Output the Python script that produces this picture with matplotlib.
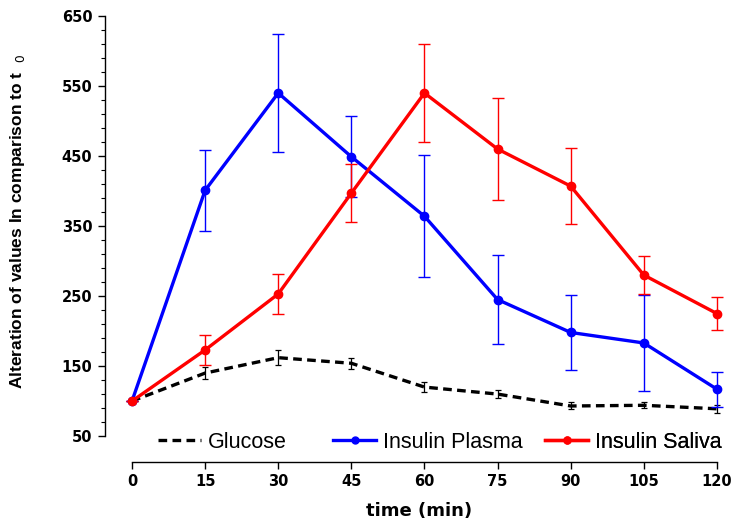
import matplotlib

matplotlib.use("Agg")
import matplotlib.pyplot as plt
from matplotlib.lines import Line2D
from matplotlib.ticker import FixedLocator

plt.rcParams["font.family"] = ["Liberation Sans", "DejaVu Sans"]

# sampling times (min)
time = [0, 15, 30, 45, 60, 75, 90, 105, 120]

# values relative to t0 (=100)
glucose = [100, 140, 162, 154, 120, 110, 93, 94, 89]
glucose_err = [0, 9, 11, 8, 7, 6, 5, 4, 6]

insulin_plasma = [100, 401, 540, 449, 364, 245, 198, 183, 117]
insulin_plasma_err = [0, 58, 84, 58, 87, 63, 54, 68, 25]

insulin_saliva = [100, 173, 253, 397, 540, 460, 407, 280, 225]
insulin_saliva_err = [0, 21, 28, 41, 70, 73, 54, 27, 24]

x_ticks = [0, 15, 30, 45, 60, 75, 90, 105, 120]
y_ticks = [50, 150, 250, 350, 450, 550, 650]
y_minor = [v for v in range(50, 651, 20) if v not in y_ticks]

BLUE = "#0000ff"
RED = "#ff0000"

fig = plt.figure(figsize=(7.33, 5.24), dpi=100)
ax = fig.add_axes([105 / 733, 62 / 524, 628 / 733, 447.4 / 524])

ax.errorbar(time, glucose, yerr=glucose_err, color="black", lw=2.4,
            dashes=(2.6, 1.6), ecolor="black", elinewidth=0.9, capsize=2.5,
            capthick=0.9, zorder=3)
ax.errorbar(time, insulin_plasma, yerr=insulin_plasma_err, color=BLUE,
            lw=2.4, marker="o", markersize=6, ecolor=BLUE,
            elinewidth=1.0, capsize=4, capthick=1.0, zorder=4)
ax.errorbar(time, insulin_saliva, yerr=insulin_saliva_err, color=RED,
            lw=2.4, marker="o", markersize=6, ecolor=RED,
            elinewidth=1.0, capsize=4, capthick=1.0, zorder=4)

# x = 0 sits at px 132 and x = 120 at px 717
ax.set_xlim(-5.54, 123.3)
ax.set_ylim(13, 652)

ax.spines["top"].set_visible(False)
ax.spines["right"].set_visible(False)
ax.spines["left"].set_bounds(50, 650)
ax.spines["bottom"].set_bounds(0, 120)
ax.spines["left"].set_linewidth(1.0)
ax.spines["bottom"].set_linewidth(1.0)

ax.set_xticks(x_ticks)
ax.set_yticks(y_ticks)
ax.yaxis.set_minor_locator(FixedLocator(y_minor))
ax.tick_params(axis="both", which="major", direction="out", length=5,
               width=1.0, labelsize=10.5, pad=4)
ax.tick_params(axis="y", which="minor", direction="out", length=3, width=0.8)
for lab in ax.get_xticklabels() + ax.get_yticklabels():
    lab.set_fontweight("bold")
    lab.set_family(["DejaVu Sans"])

ax.set_xlabel("time (min)", fontsize=13, fontweight="bold",
              family=["DejaVu Sans"])
ax.xaxis.set_label_coords(0.5, -0.089)
ax.set_ylabel("Alteration of values In comparison to t  $_{0}$",
              fontsize=12.5, fontweight="bold")
ax.yaxis.set_label_coords(-0.124, 0.539)

# legend entries are spaced unevenly in the original, so one legend each
handles = [
    (Line2D([], [], color="black", lw=2.4, dashes=(2.6, 1.6)), "Glucose", 158),
    (Line2D([], [], color=BLUE, lw=2.4, marker="o", markersize=5),
     "Insulin Plasma", 333),
    (Line2D([], [], color=RED, lw=2.4, marker="o", markersize=5),
     "Insulin Saliva", 545),
]
for h, lab, xpx in handles:
    leg = ax.legend([h], [lab], loc="center left",
                    bbox_to_anchor=(xpx / 733, (524 - 442) / 524),
                    bbox_transform=fig.transFigure, frameon=False,
                    fontsize=15.5, handlelength=2.0, handletextpad=0.3,
                    borderpad=0, borderaxespad=0)
    ax.add_artist(leg)

fig.savefig("out.png", dpi=100)
